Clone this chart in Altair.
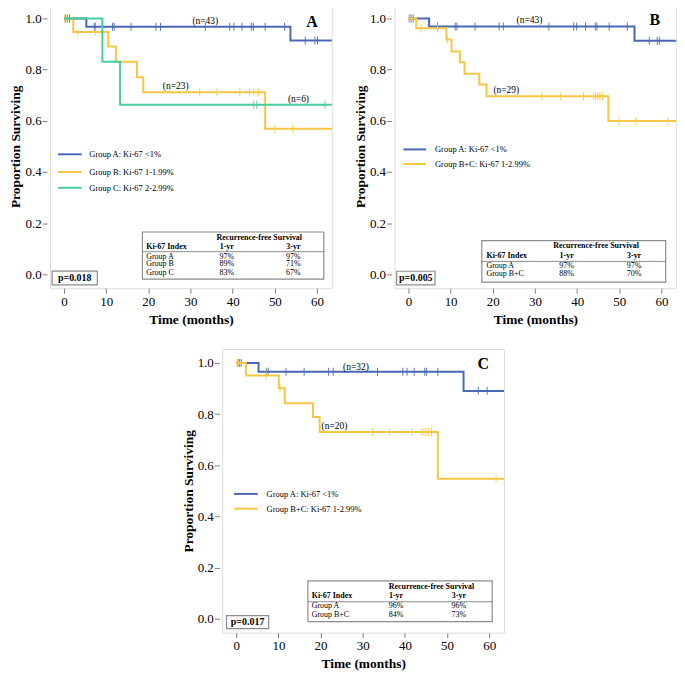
import altair as alt
import pandas as pd

FONT = "Liberation Serif"
BLUE = "#4a68b8"
YELLOW = "#f6c745"
GREEN = "#48cd9e"
FRAME = "#a8a8a8"

x_ticks = [0, 10, 20, 30, 40, 50, 60]
y_ticks = [0.0, 0.2, 0.4, 0.6, 0.8, 1.0]

# ---------------- Panel A ----------------
a_grpA_t = [0, 5.3, 53.7]
a_grpA_s = [1.0, 0.968, 0.914]
a_grpA_c = [0.3, 0.8, 1.3, 7.2, 7.4, 11.5, 11.9, 15.9, 21.8, 22.9, 33.5, 39.3, 40.3,
            42.2, 44.4, 44.9, 47.7, 52.3, 57.2, 59.5, 60.1]
a_grpB_t = [0, 2.2, 10.5, 12.3, 17.3, 18.8, 47.7]
a_grpB_s = [1.0, 0.947, 0.891, 0.831, 0.770, 0.712, 0.569]
a_grpB_c = [0.2, 0.7, 3.3, 7.4, 32.2, 36.3, 41.7, 44.0, 45.0, 46.1, 50.0, 54.2]
a_grpC_t = [0, 9.1, 13.3]
a_grpC_s = [1.0, 0.831, 0.663]
a_grpC_c = [45.0, 45.7, 61.9]
a_legend = ["Group A: Ki-67 <1%", "Group B: Ki-67 1-1.99%", "Group C: Ki-67 2-2.99%"]
a_n = ["(n=43)", "(n=23)", "(n=6)"]
a_rows = ["Group A", "Group B", "Group C"]
a_1yr = ["97%", "89%", "83%"]
a_3yr = ["97%", "71%", "67%"]
a_p = "p=0.018"

# ---------------- Panel B ----------------
b_grpA_t = [0, 4.9, 53.6]
b_grpA_s = [1.0, 0.969, 0.913]
b_grpA_c = [0.2, 0.6, 1.1, 6.9, 11.1, 11.5, 15.8, 21.5, 22.5, 33.3, 39.2, 39.9, 42.0,
            44.3, 44.7, 47.6, 51.9, 57.1, 59.0, 59.5]
b_grpBC_t = [0, 1.85, 9.0, 10.2, 12.2, 13.3, 16.8, 18.5, 47.4]
b_grpBC_s = [1.0, 0.962, 0.918, 0.871, 0.829, 0.784, 0.742, 0.696, 0.599]
b_grpBC_c = [0.3, 0.8, 3.0, 6.9, 9.2, 31.7, 36.1, 41.5, 43.9, 44.4, 44.9, 45.4, 46.0,
             50.0, 54.0, 61.5]
b_legend = ["Group A: Ki-67 <1%", "Group B+C: Ki-67 1-2.99%"]
b_n = ["(n=43)", "(n=29)"]
b_rows = ["Group A", "Group B+C"]
b_1yr = ["97%", "88%"]
b_3yr = ["97%", "70%"]
b_p = "p=0.005"

# ---------------- Panel C ----------------
c_grpA_t = [0, 5.3, 53.9]
c_grpA_s = [1.0, 0.966, 0.891]
c_grpA_c = [0.4, 0.8, 1.2, 7.1, 7.6, 11.8, 16.1, 21.9, 23.0, 33.5, 39.5, 40.5, 42.2,
            44.7, 45.1, 47.8, 57.4, 59.5]
c_grpBC_t = [0, 2.3, 10.1, 11.5, 18.2, 19.8, 47.8]
c_grpBC_s = [1.0, 0.951, 0.901, 0.843, 0.789, 0.730, 0.547]
c_grpBC_c = [0.2, 0.6, 7.1, 10.4, 32.3, 36.4, 41.6, 44.0, 44.5, 45.0, 45.6, 46.3, 61.6]
c_legend = ["Group A: Ki-67 <1%", "Group B+C: Ki-67 1-2.99%"]
c_n = ["(n=32)", "(n=20)"]
c_rows = ["Group A", "Group B+C"]
c_1yr = ["96%", "84%"]
c_3yr = ["96%", "73%"]
c_p = "p=0.017"

table_head = "Recurrence-free Survival"
col_heads = ["Ki-67 Index", "1-yr", "3-yr"]

XDOM = [-3.3, 63.5]
YDOM = [-0.055, 1.055]
W, H = 283, 285

XS = alt.Scale(domain=XDOM, nice=False, zero=False)
YS = alt.Scale(domain=YDOM, nice=False, zero=False)
XAX = alt.Axis(values=x_ticks, labelFont=FONT, labelFontSize=13, titleFont=FONT,
               titleFontSize=13.5, titleFontWeight="bold", domain=False, grid=False,
               tickColor="#808080", tickSize=5, labelColor="black", titleColor="black",
               labelPadding=2, titlePadding=4)
YAX = alt.Axis(values=y_ticks, format=".1f", labelFont=FONT, labelFontSize=13,
               titleFont=FONT, titleFontSize=13.5, titleFontWeight="bold", domain=False,
               grid=False, tickColor="#808080", tickSize=5, labelColor="black",
               titleColor="black", labelPadding=1, titlePadding=2, offset=3)


def ex(f="time"):
    return alt.X(f"{f}:Q", scale=XS, axis=XAX, title="Time (months)")


def ey(f="surv"):
    return alt.Y(f"{f}:Q", scale=YS, axis=YAX, title="Proportion Surviving")


def surv_at(ts, ss, t):
    v = ss[0]
    for ti, si in zip(ts, ss):
        if ti <= t:
            v = si
    return v


def curve(ts, ss, cens, color):
    df = pd.DataFrame({"time": list(ts) + [XDOM[1] + 2], "surv": list(ss) + [ss[-1]]})
    line = alt.Chart(df).mark_line(interpolate="step-after", color=color,
                                   strokeWidth=2, clip=True).encode(x=ex(), y=ey())
    cdf = pd.DataFrame({"time": cens, "surv": [surv_at(ts, ss, c) for c in cens]})
    ticks = alt.Chart(cdf).mark_tick(orient="vertical", color=color, size=8,
                                     thickness=1, opacity=0.9).encode(x=ex(), y=ey())
    return [line, ticks]


def text_layer(rows, size, weight="normal", align="left"):
    df = pd.DataFrame(rows, columns=["time", "surv", "label"])
    return alt.Chart(df).mark_text(font=FONT, fontSize=size, fontWeight=weight,
                                   align=align, baseline="middle",
                                   color="black").encode(x=ex(), y=ey(), text="label:N")


def box(x0, x1, y0, y1):
    df = pd.DataFrame({"time": [x0], "time2": [x1], "surv": [y0], "surv2": [y1]})
    return alt.Chart(df).mark_rect(fill="white", stroke="#8c8c8c",
                                   strokeWidth=1.2).encode(
        x=ex(), x2=alt.X2("time2"), y=ey(), y2=alt.Y2("surv2"))


def hline(x0, x1, y):
    df = pd.DataFrame({"time": [x0], "time2": [x1], "surv": [y]})
    return alt.Chart(df).mark_rule(color="#8c8c8c", strokeWidth=1).encode(
        x=ex(), x2=alt.X2("time2"), y=ey())


def legend(labels, colors, lx0, lx1, tx, ys):
    layers = []
    for lab, col, yy in zip(labels, colors, ys):
        df = pd.DataFrame({"time": [lx0], "time2": [lx1], "surv": [yy]})
        layers.append(alt.Chart(df).mark_rule(color=col, strokeWidth=2).encode(
            x=ex(), x2=alt.X2("time2"), y=ey()))
    layers.append(text_layer([(tx, yy, lab) for lab, yy in zip(labels, ys)], 8.5))
    return layers


def table(rows, v1, v3, bx, by, hy, cy, ly, ry, lx, c1, c3, hc):
    layers = [box(bx[0], bx[1], by[0], by[1]), hline(bx[0], bx[1], ly)]
    layers.append(text_layer([(hc, hy, table_head)], 8, "bold", "center"))
    layers.append(text_layer([(lx, cy, col_heads[0])], 8, "bold", "left"))
    layers.append(text_layer([(c1, cy, col_heads[1]), (c3, cy, col_heads[2])], 8,
                             "bold", "center"))
    layers.append(text_layer([(lx, y, r) for r, y in zip(rows, ry)], 8))
    layers.append(text_layer([(c1, y, v) for v, y in zip(v1, ry)] +
                             [(c3, y, v) for v, y in zip(v3, ry)], 8, "normal", "center"))
    return layers


def pbox(ptxt, bx, by, tx, ty):
    return [box(bx[0], bx[1], by[0], by[1]),
            text_layer([(tx, ty, ptxt)], 10, "bold", "center")]


# ---- build panel A
layA = []
layA += curve(a_grpA_t, a_grpA_s, a_grpA_c, BLUE)
layA += curve(a_grpB_t, a_grpB_s, a_grpB_c, YELLOW)
layA += curve(a_grpC_t, a_grpC_s, a_grpC_c, GREEN)
layA += legend(a_legend, [BLUE, YELLOW, GREEN], -1.4, 4.2, 6.0, [0.469, 0.400, 0.338])
layA.append(text_layer([(33.5, 0.992, a_n[0]), (26.5, 0.735, a_n[1]),
                        (55.6, 0.685, a_n[2])], 9.5, "normal", "center"))
layA.append(text_layer([(58.8, 0.988, "A")], 16, "bold", "center"))
layA += table(a_rows, a_1yr, a_3yr, (18.6, 61.6), (0.165, -0.019), 0.142, 0.108, 0.088,
              [0.069, 0.038, 0.004], 19.5, 38.6, 54.4, 46.3)
layA += pbox(a_p, (-2.8, 7.9), (0.012, -0.042), 2.55, -0.015)
chartA = alt.layer(*layA).properties(width=W, height=H)

# ---- build panel B
layB = []
layB += curve(b_grpA_t, b_grpA_s, b_grpA_c, BLUE)
layB += curve(b_grpBC_t, b_grpBC_s, b_grpBC_c, YELLOW)
layB += legend(b_legend, [BLUE, YELLOW], -1.2, 4.2, 6.3, [0.488, 0.431])
layB.append(text_layer([(28.7, 0.996, b_n[0]), (23.2, 0.719, b_n[1])], 9.5, "normal",
                       "center"))
layB.append(text_layer([(58.4, 0.996, "B")], 16, "bold", "center"))
layB += table(b_rows, b_1yr, b_3yr, (17.4, 61.0), (0.131, -0.031), 0.112, 0.073, 0.050,
              [0.031, 0.0], 18.5, 37.5, 53.5, 44.5)
layB += pbox(b_p, (-2.8, 6.3), (0.0115, -0.042), 1.75, -0.015)
chartB = alt.layer(*layB).properties(width=W, height=H)

# ---- build panel C
layC = []
layC += curve(c_grpA_t, c_grpA_s, c_grpA_c, BLUE)
layC += curve(c_grpBC_t, c_grpBC_s, c_grpBC_c, YELLOW)
layC += legend(c_legend, [BLUE, YELLOW], -0.5, 5.1, 7.2, [0.488, 0.430])
layC.append(text_layer([(28.4, 0.984, c_n[0]), (23.3, 0.754, c_n[1])], 9.5, "normal",
                       "center"))
layC.append(text_layer([(58.6, 0.996, "C")], 16, "bold", "center"))
layC += table(c_rows, c_1yr, c_3yr, (17.0, 60.7), (0.148, -0.012), 0.125, 0.090, 0.066,
              [0.051, 0.016], 17.9, 37.9, 52.8, 46.3)
layC += pbox(c_p, (-2.3, 7.7), (0.012, -0.039), 2.7, -0.013)
chartC = alt.layer(*layC).properties(width=W, height=H)

top = alt.hconcat(chartA, chartB, spacing=20)
chart = alt.vconcat(top, chartC, spacing=22, center=True).properties(
    padding={"left": 0, "top": -6, "right": 0, "bottom": 0}
).configure_view(stroke=FRAME, strokeWidth=1.5).configure(background="white")

chart.save("out.html", embed_options={"renderer": "svg", "actions": False})
